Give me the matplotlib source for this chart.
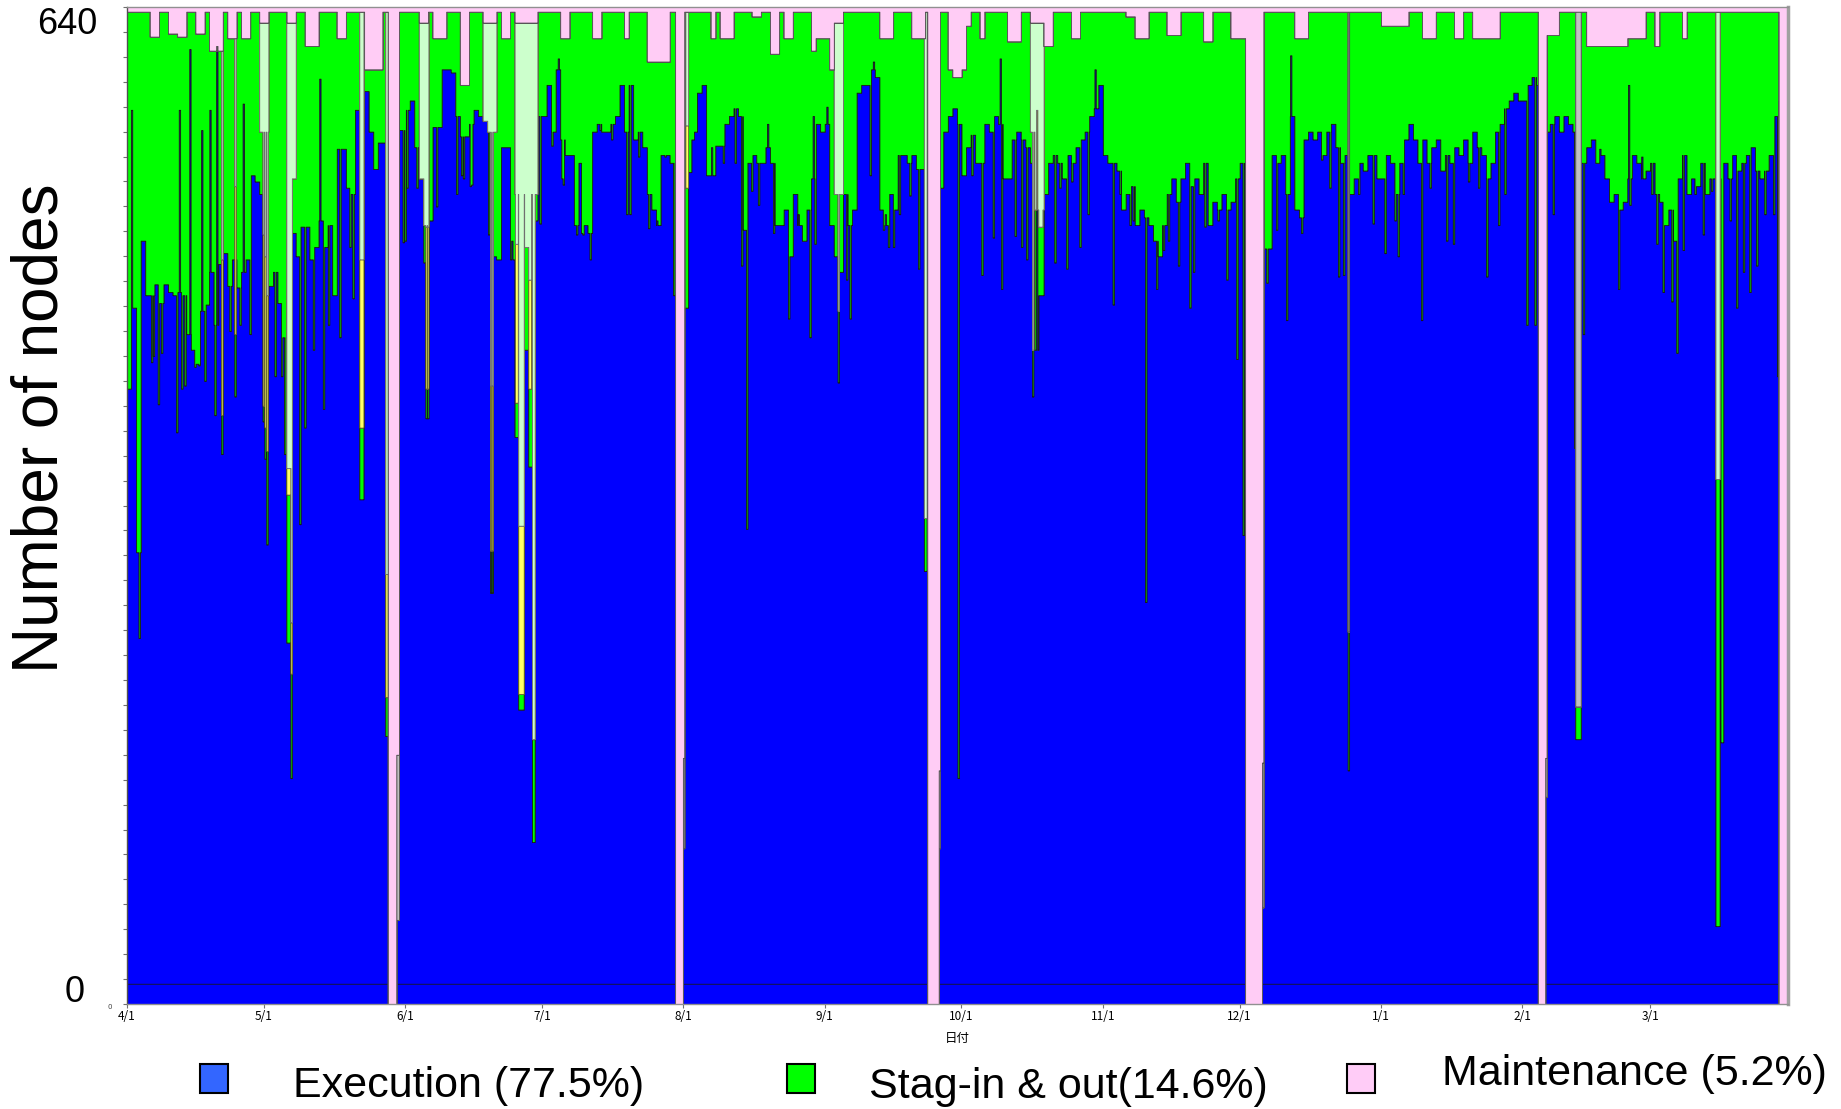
import numpy as np
import matplotlib
matplotlib.use("Agg")
import matplotlib.pyplot as plt
from matplotlib import font_manager
from matplotlib.patches import Rectangle
from matplotlib.transforms import blended_transform_factory

# ---- data (days counted from 4/1) ----
month_days = [0, 30, 61, 91, 122, 153, 183, 214, 244, 275, 306, 334]
month_labels = ["4/1", "5/1", "6/1", "7/1", "8/1", "9/1", "10/1", "11/1",
                "12/1", "1/1", "2/1", "3/1"]
total_nodes = 640
reserved_nodes = 13
x_end = 364.25

# nodes executing jobs, one value per day
exec_nodes = [
    395, 447, 290, 490, 455, 455, 462, 450, 462, 457,
    455, 457, 455, 430, 420, 411, 445, 449, 470, 436,
    475, 482, 461, 478, 460, 470, 478, 532, 528, 520,
    455, 461, 470, 450, 428, 480, 495, 480, 499, 499,
    478, 486, 503, 486, 500, 455, 549, 549, 524, 520,
    574, 560, 586, 560, 536, 553, 553, 553, 0, 561,
    561, 574, 580, 550, 530, 476, 503, 563, 563, 600,
    600, 598, 570, 557, 557, 565, 574, 570, 567, 560,
    480, 478, 550, 550, 478, 364, 189, 420, 345, 503,
    570, 570, 590, 560, 600, 555, 545, 545, 500, 540,
    500, 495, 560, 565, 560, 560, 565, 570, 590, 560,
    590, 555, 560, 550, 520, 510, 500, 545, 545, 540,
    540, 0, 447, 534, 560, 585, 590, 532, 532, 551,
    551, 565, 570, 575, 570, 497, 540, 545, 540, 540,
    550, 540, 500, 500, 510, 480, 520, 500, 490, 510,
    530, 565, 560, 565, 500, 480, 470, 520, 500, 510,
    585, 590, 590, 600, 595, 510, 500, 520, 510, 545,
    545, 540, 545, 536, 536, 536, 0, 0, 524, 560,
    570, 575, 565, 532, 550, 558, 540, 540, 565, 560,
    570, 565, 530, 530, 555, 560, 555, 550, 540, 420,
    455, 520, 540, 545, 540, 530, 545, 540, 550, 555,
    560, 570, 575, 590, 545, 540, 540, 535, 510, 520,
    525, 500, 510, 505, 500, 490, 480, 500, 520, 530,
    515, 530, 540, 525, 530, 520, 540, 500, 515, 510,
    520, 510, 515, 530, 540, 536, 0, 0, 0, 485,
    485, 545, 540, 545, 520, 570, 510, 505, 555, 560,
    555, 560, 545, 560, 565, 550, 540, 545, 520, 530,
    540, 535, 545, 545, 530, 530, 545, 540, 520, 540,
    555, 565, 555, 540, 555, 540, 550, 555, 535, 545,
    540, 550, 545, 555, 540, 560, 550, 545, 530, 540,
    560, 565, 575, 580, 585, 580, 580, 590, 595, 590,
    0, 560, 565, 570, 560, 570, 565, 560, 540, 540,
    550, 555, 540, 545, 530, 515, 520, 510, 515, 530,
    545, 540, 530, 535, 540, 520, 515, 500, 510, 490,
    530, 545, 520, 530, 525, 540, 520, 530, 530, 530,
    540, 530, 545, 535, 540, 545, 550, 535, 530, 535,
    545, 570, 580, 0, 0,
]

# top of the stage-in/out (green) band, one value per day
stage_top = [
    637, 637, 637, 637, 637, 621, 621, 637, 637, 623,
    623, 621, 621, 637, 637, 623, 623, 637, 612, 612,
    612, 637, 620, 620, 637, 620, 620, 637, 637, 560,
    560, 637, 637, 637, 637, 530, 530, 637, 637, 615,
    615, 615, 637, 637, 637, 637, 620, 620, 637, 637,
    637, 637, 600, 600, 600, 600, 637, 637, 637, 637,
    637, 637, 637, 637, 530, 500, 637, 620, 620, 620,
    637, 637, 637, 590, 590, 637, 637, 637, 560, 560,
    560, 637, 620, 620, 637, 520, 520, 520, 520, 520,
    637, 637, 637, 637, 637, 620, 620, 637, 637, 637,
    637, 637, 620, 620, 637, 637, 637, 637, 637, 620,
    637, 637, 637, 637, 605, 605, 605, 605, 605, 637,
    637, 637, 637, 637, 637, 637, 637, 637, 620, 637,
    620, 620, 620, 637, 637, 637, 637, 634, 634, 637,
    637, 610, 610, 637, 620, 620, 637, 637, 637, 637,
    612, 620, 620, 620, 600, 520, 520, 637, 637, 637,
    637, 637, 637, 637, 637, 620, 620, 620, 637, 637,
    637, 637, 620, 620, 620, 637, 637, 637, 637, 637,
    600, 595, 595, 600, 628, 637, 637, 620, 637, 637,
    637, 637, 637, 618, 618, 618, 637, 637, 560, 510,
    510, 615, 615, 637, 637, 637, 637, 620, 620, 637,
    637, 637, 637, 637, 637, 637, 637, 637, 637, 634,
    634, 620, 620, 620, 637, 637, 637, 637, 622, 622,
    622, 637, 637, 637, 637, 637, 618, 618, 637, 637,
    637, 637, 620, 620, 620, 620, 637, 637, 637, 637,
    637, 637, 637, 637, 637, 637, 620, 620, 620, 637,
    637, 637, 637, 637, 637, 637, 637, 637, 637, 637,
    637, 637, 637, 637, 637, 628, 628, 628, 628, 628,
    628, 637, 637, 637, 620, 620, 620, 637, 637, 637,
    637, 620, 620, 637, 637, 620, 620, 620, 620, 620,
    620, 637, 637, 637, 637, 637, 637, 637, 637, 637,
    637, 622, 622, 622, 637, 637, 637, 637, 637, 637,
    615, 615, 615, 615, 615, 615, 615, 615, 615, 620,
    620, 620, 620, 637, 637, 615, 637, 637, 637, 637,
    637, 620, 637, 637, 637, 637, 637, 637, 637, 637,
    637, 637, 637, 637, 637, 637, 637, 637, 637, 637,
    637, 637, 637, 637, 637,
]

# idle (light green) nodes on top of the green band
idle_days = [29, 30, 35, 36, 64, 65, 78, 79, 80, 85, 86, 87, 88, 89,
             155, 156, 198, 199, 200]
idle_nodes = [70, 70, 100, 100, 100, 130, 70, 70, 70, 110, 110, 110, 110, 110,
              110, 110, 70, 120, 120]

# short-lived drops / peaks of the execution count (green fills the gap)
needle_day = [
    1.0, 2.7, 5.4, 5.8, 6.9, 7.6, 10.9, 11.5, 12.0, 12.7, 13.8, 14.9, 15.8,
    16.4, 17.1, 18.2, 19.3, 19.7, 22.6, 24.8, 25.5, 27.0, 32.5, 33.9, 34.6,
    37.9, 39.0, 40.9, 42.3, 43.1, 44.2, 46.7, 48.9, 49.6,
    60.6, 61.0, 61.4, 63.6, 67.9, 72.3, 73.4, 73.8, 75.3, 75.6, 79.3, 81.1,
    84.4, 90.6, 93.2, 94.6, 95.4, 95.7, 98.6, 99.7, 100.0, 101.6, 103.8,
    106.3, 109.6, 110.3, 112.2, 114.4, 116.2, 118.0, 119.9,
    123.9, 124.2, 127.5, 128.2, 130.8, 133.4, 134.8, 135.9, 137.0, 138.5,
    140.5, 141.8, 145.1, 147.2, 149.8, 150.5, 150.9, 153.5, 157.8, 158.6,
    163.0, 163.7, 165.9, 166.3, 167.0, 168.1, 169.4, 171.7, 173.6, 182.3,
    185.3, 187.5, 190.0, 191.5, 191.8, 194.8, 196.2, 197.3, 199.5, 203.5,
    204.6, 206.1, 207.2, 209.0, 210.8, 212.3, 216.3, 217.8, 220.0, 220.7,
    223.4, 225.8, 227.3, 228.4, 230.6, 233.1, 233.9, 236.4, 239.3, 241.2,
    243.4, 244.8,
    250.0, 252.1, 254.3, 255.2, 257.6, 262.0, 263.8, 265.7, 266.8, 270.1,
    273.3, 275.9, 278.1, 278.8, 279.9, 283.9, 285.8, 289.4, 290.9, 294.2,
    296.4, 298.2, 300.8, 302.2,
    307.0, 308.8, 312.8, 317.5, 319.4, 323.0, 327.1, 329.3, 329.6, 332.2,
    334.4, 335.5, 336.9, 338.8, 339.9, 341.3, 343.9, 345.7, 347.5, 349.6,
    349.9, 351.6, 353.0, 354.5, 355.9, 357.4, 359.2, 361.1, 362.0,
]
needle_exec = [
    574, 235, 412, 416, 385, 418, 367, 574, 395, 397, 613, 409, 410,
    561, 400, 574, 378, 615, 432, 436, 578, 430, 403, 403, 353,
    308, 370, 420, 594, 382, 436, 428, 486, 453,
    489, 490, 524, 524, 512, 520, 532, 530, 525, 526, 494, 478,
    490, 501, 551, 607, 530, 526, 494, 495, 494, 478, 561,
    555, 507, 507, 544, 498, 503, 544, 455,
    555, 555, 532, 550, 540, 540, 474, 305, 522, 513,
    565, 495, 440, 507, 428, 570, 488, 576, 465, 440,
    532, 605, 497, 507, 486, 486, 507, 519, 472, 145,
    532, 468, 492, 607, 459, 493, 486, 478, 574, 476,
    524, 472, 528, 486, 507, 600, 449, 520, 500, 503,
    258, 459, 484, 490, 474, 447, 470, 499, 503, 465,
    414, 301,
    463, 497, 439, 609, 495, 542, 524, 467, 468, 520,
    501, 482, 503, 480, 520, 439, 524, 490, 488, 528,
    524, 467, 500, 520,
    436, 436, 507, 357, 430, 549, 459, 590, 513, 544,
    520, 488, 457, 451, 418, 484, 520, 494, 522, 168,
    168, 503, 447, 470, 457, 474, 507, 507, 403,
]

# drops where the freed nodes split into stage (green), wait (yellow), idle
mixed_day = [20.8, 23.7, 29.9, 30.3, 30.7, 35.1, 35.4, 35.7, 36.0,
             51.1, 51.4, 51.7, 56.8, 57.1, 65.6, 65.95, 79.75, 80.1,
             85.25, 85.55, 85.95, 86.25, 86.55, 86.85, 87.25, 87.55, 87.85,
             88.15, 88.45, 88.95, 89.25, 122.6, 122.9, 156.0, 174.9, 175.2,
             198.6, 200.0, 200.3, 200.6, 348.5, 348.8, 349.1]
mixed_exec = [353, 390, 374, 350, 295, 232, 232, 232, 145,
              324, 324, 324, 172, 172, 376, 376, 264, 264,
              364, 364, 189, 189, 189, 189, 420, 420, 420,
              345, 345, 104, 104, 447, 447, 399, 278, 278,
              390, 455, 455, 455, 50, 50, 50]
mixed_stage = [25, 40, 10, 20, 60, 95, 95, 95, 67,
               46, 46, 46, 25, 25, 19, 19, 27, 27,
               22, 22, 10, 10, 10, 10, 66, 66, 66,
               50, 50, 66, 66, 77, 77, 46, 34, 34,
               30, 44, 44, 44, 287, 287, 287]
mixed_wait = [100, 95, 110, 110, 100, 17, 17, 17, 33,
              108, 108, 108, 79, 79, 104, 104, 106, 106,
              102, 102, 108, 108, 108, 108, 0, 0, 0,
              70, 70, 0, 0, 40, 40, 0, 0, 0,
              0, 0, 0, 0, 0, 0, 0]

# columns with nodes down (gray)
down_day = [267.85, 317.75, 318.05, 318.35, 318.65]
down_exec = [150, 170, 170, 170, 170]
down_stage = [89, 21, 21, 21, 21]

# restart right after maintenance
restart_day = [59.2, 59.5, 122.05, 178.15, 249.05, 311.15]
restart_exec = [54, 54, 100, 100, 62, 133]
restart_top = [160, 160, 158, 150, 155, 158]

# maintenance windows
maint_start = [57.2, 120.2, 175.5, 245.2, 309.4, 362.2]
maint_end = [59.05, 121.9, 178.0, 248.9, 311.0, 364.3]

legend_labels = ["Execution (77.5%)", "Stag-in & out(14.6%)", "Maintenance (5.2%)"]

BLUE = "#0000ff"
GREEN = "#00ff00"
YELLOW = "#ffff66"
LGREEN = "#ccffcc"
GRAY = "#c0c0c0"
PINK = "#ffccf5"


def build_layers():
    step = 0.05
    t = np.arange(0, x_end, step)
    mid = t + step / 2
    day = np.minimum(mid.astype(int), len(exec_nodes) - 1)
    ex = np.asarray(exec_nodes, float)[day]
    g1 = np.asarray(stage_top, float)[day]
    idle = np.zeros_like(t)
    for d, a in zip(idle_days, idle_nodes):
        idle[day == d] = a
    base_top = g1 + idle
    y1 = g1.copy()
    l1 = base_top.copy()
    k1 = base_top.copy()

    def col(center, w=0.3):
        return np.abs(mid - center) < w / 2

    for d, e in zip(needle_day, needle_exec):
        ex[col(d)] = e
    for d, e, s, w in zip(mixed_day, mixed_exec, mixed_stage, mixed_wait):
        m = col(d)
        ex[m] = e
        g1[m] = e + s
        y1[m] = e + s + w
    for d, e, s in zip(down_day, down_exec, down_stage):
        m = col(d)
        ex[m] = e
        g1[m] = e + s
        y1[m] = e + s
        l1[m] = e + s
    for d, e, top in zip(restart_day, restart_exec, restart_top):
        m = col(d)
        ex[m] = e
        g1[m] = e
        y1[m] = e
        l1[m] = e
        k1[m] = top
    for a, b in zip(maint_start, maint_end):
        m = (mid >= a) & (mid < b)
        for arr in (ex, g1, y1, l1, k1):
            arr[m] = 0

    g1 = np.maximum(g1, ex)
    y1 = np.maximum(y1, g1)
    l1 = np.maximum(l1, y1)
    k1 = np.maximum(k1, l1)

    tp = np.append(t, x_end)
    out = [np.append(a, a[-1]) for a in (ex, g1, y1, l1, k1)]
    return tp, out


def main():
    names = {f.name for f in font_manager.fontManager.ttflist}
    if "Liberation Sans Narrow" in names:
        leg_font, leg_size = "Liberation Sans Narrow", 37
    else:
        leg_font, leg_size = "Liberation Sans", 31
    cjk = ["Noto Sans CJK JP", "DejaVu Sans"]

    W, H = 1841, 1109
    fig = plt.figure(figsize=(W / 100, H / 100), dpi=100)
    ax = fig.add_axes([127 / W, 1 - 1004 / H, 1661 / W, 997 / H])

    tp, (ex, g1, y1, l1, k1) = build_layers()
    edge = dict(step="post", edgecolor="#1a1a1a", linewidth=0.6)
    ax.fill_between(tp, 0, ex, facecolor=BLUE, **edge)
    ax.fill_between(tp, 0, np.minimum(reserved_nodes, ex), facecolor=BLUE, **edge)
    ax.fill_between(tp, ex, g1, facecolor=GREEN, **edge)
    ax.fill_between(tp, g1, y1, facecolor=YELLOW, step="post",
                    edgecolor="#6b6b30", linewidth=0.6)
    ax.fill_between(tp, y1, l1, facecolor=LGREEN, step="post",
                    edgecolor="#707070", linewidth=0.6)
    ax.fill_between(tp, l1, k1, facecolor=GRAY, step="post",
                    edgecolor="#505050", linewidth=0.6)
    ax.fill_between(tp, k1, total_nodes, facecolor=PINK, step="post",
                    edgecolor="#505050", linewidth=0.6)

    ax.set_xlim(0, x_end)
    ax.set_ylim(0, total_nodes)
    ax.set_xticks(month_days)
    ax.set_xticklabels(month_labels, fontsize=8.5, family=cjk)
    ax.set_yticks(np.arange(0, total_nodes + 1, 16))
    ax.set_yticklabels([])
    ax.tick_params(axis="both", length=3, width=0.8, color="#707070", pad=1)
    for side, c, w in [("top", "#909090", 1.0), ("right", "#a0a0a0", 2.5),
                       ("bottom", "#909090", 1.0), ("left", "#505050", 1.0)]:
        ax.spines[side].set_color(c)
        ax.spines[side].set_linewidth(w)

    tr = blended_transform_factory(ax.transAxes, ax.transData)
    ax.text(-0.018, 629, "640", transform=tr, ha="right", va="center",
            fontsize=26, family="Liberation Sans")
    ax.text(-0.0253, 7.7, "0", transform=tr, ha="right", va="center",
            fontsize=26, family="Liberation Sans")
    ax.text(-0.009, -2, "0", transform=tr, ha="right", va="center",
            fontsize=5, color="#404040")
    ax.text(0.5, -0.035, "日付", transform=ax.transAxes, ha="center",
            va="center", fontsize=9, family=cjk)

    fig.text(41 / W, 1 - 428 / H, "Number of nodes", rotation=90,
             ha="center", va="center", fontsize=46, family="Liberation Sans")

    # legend
    sq_colors = ["#3366ff", GREEN, "#ffccf7"]
    sq_x = [200, 787, 1347]
    txt_x = [293, 869, 1442]
    txt_y = [1086, 1087, 1074]
    for c, sx, tx, ty, lab in zip(sq_colors, sq_x, txt_x, txt_y, legend_labels):
        fig.add_artist(Rectangle((sx / W, 1 - 1093 / H), 28 / W, 29 / H,
                                 transform=fig.transFigure, facecolor=c,
                                 edgecolor="black", linewidth=1.5))
        fig.text(tx / W, 1 - ty / H, lab, ha="left", va="center",
                 fontsize=leg_size, family=leg_font)

    fig.savefig("out.png", dpi=100)
    plt.close(fig)


if __name__ == "__main__":
    main()
